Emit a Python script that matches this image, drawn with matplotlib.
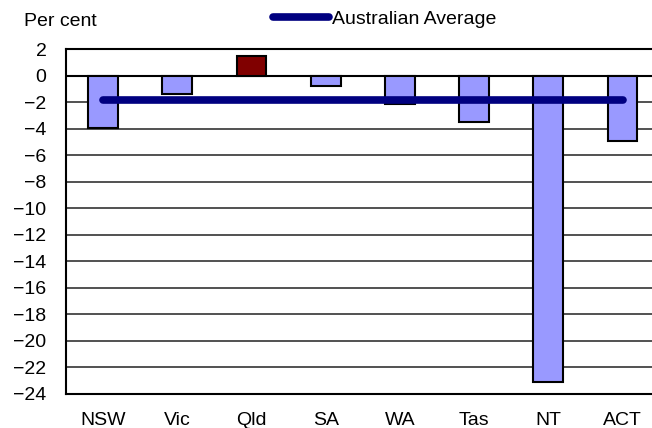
import matplotlib
matplotlib.use("Agg")
import matplotlib.pyplot as plt

# === DATA ===
states = ["NSW", "Vic", "Qld", "SA", "WA", "Tas", "NT", "ACT"]
change = [-3.9, -1.4, 1.5, -0.8, -2.1, -3.5, -23.1, -4.9]
aus_average = -1.8
y_ticks = list(range(2, -26, -2))

LIGHT = "#9999FF"
DARK = "#800000"
NAVY = "#000080"

plt.rcParams["font.family"] = ["Liberation Sans", "DejaVu Sans"]
plt.rcParams["lines.solid_capstyle"] = "round"

fig = plt.figure(figsize=(6.52, 4.28), dpi=100)
W, H = 652, 428
ax = fig.add_axes([66 / W, 34 / H, 593.6 / W, 344.7 / H])

x = list(range(len(states)))
colors = [DARK if v > 0 else LIGHT for v in change]
ax.bar(x, change, width=0.4, color=colors, edgecolor="black", linewidth=1.5, zorder=3)

# average line across the states
ax.plot([x[0], x[-1]], [aus_average, aus_average], color=NAVY, linewidth=5.5,
        solid_capstyle="round", zorder=4, label="Australian Average")

ax.set_xlim(-0.5, 7.5)
ax.set_ylim(-24, 2)
ax.set_yticks(y_ticks)
ax.set_yticklabels([str(t).replace("-", "\u2212") for t in y_ticks])
ax.set_xticks(x)
ax.set_xticklabels(states)
ax.tick_params(axis="both", length=0, labelsize=14)
ax.tick_params(axis="y", pad=14)
ax.tick_params(axis="x", pad=13)

ax.yaxis.grid(True, color="#222222", linewidth=1.1, zorder=0)
ax.set_axisbelow(True)
ax.axhline(0, color="black", linewidth=1.5, zorder=2)

ax.spines["right"].set_visible(False)
for side in ["left", "bottom", "top"]:
    ax.spines[side].set_linewidth(1.5)
    ax.spines[side].set_color("black")

fig.text(24 / W, 1 - 21 / H, "Per cent", fontsize=14, va="center", ha="left")

fig.legend(loc="center left", bbox_to_anchor=(273 / W, 1 - 19 / H), frameon=False,
           fontsize=14, handlelength=2.9, handletextpad=0.15, borderpad=0,
           borderaxespad=0)

fig.savefig("out.png", dpi=100)
